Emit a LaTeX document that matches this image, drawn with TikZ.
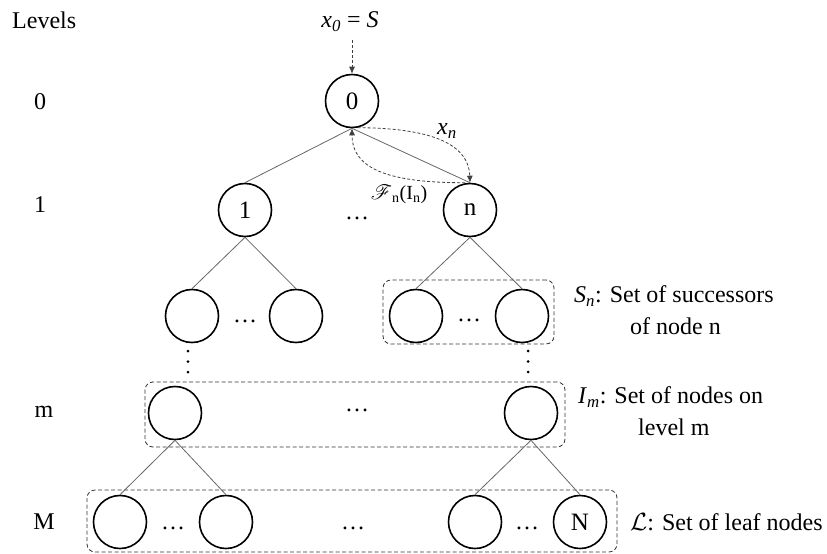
\documentclass[tikz,border=0pt]{standalone}
\usepackage{fontspec}
\setmainfont{Liberation Serif}
\usepackage{mathrsfs}
\usetikzlibrary{arrows.meta}
\begin{document}
\begin{tikzpicture}[x=1pt,y=-1pt,
 nd/.style={circle,draw=black,line width=1.6pt,minimum size=53pt,inner sep=0pt,font=\fontsize{25}{27}\selectfont},
 edge/.style={draw=black!60,line width=0.8pt},
 setbox/.style={draw=black!80,dash pattern=on 4pt off 2.5pt,rounded corners=8pt,line width=0.8pt,inner sep=0pt},
 lbl/.style={inner sep=0pt,font=\fontsize{24}{26}\selectfont},
 slbl/.style={inner sep=0pt,font=\fontsize{20}{22}\selectfont},
 darr/.style={draw=black!75,line width=0.8pt,dash pattern=on 3pt off 2pt,-{Latex[length=7pt,width=6pt]}},
 vdot/.style={circle,fill=black,inner sep=0pt,minimum size=3pt}
]
\useasboundingbox (0,0) rectangle (827,554);

% set boxes
\node[setbox,minimum width=171pt,minimum height=64pt] (Sn) at (468.5,312) {};
\node[setbox,minimum width=420pt,minimum height=65pt] (Im) at (355,414.5) {};
\node[setbox,minimum width=530pt,minimum height=62pt] (Lf) at (352,521) {};

% tree nodes
\node[nd] (r) at (352,101) {0};
\node[nd] (a) at (245,210) {1};
\node[nd] (b) at (470,210) {n};
\node[nd] (a1) at (192,316) {};
\node[nd] (a2) at (296,316) {};
\node[nd] (b1) at (416,316) {};
\node[nd] (b2) at (522,316) {};
\node[nd] (m1) at (175,413) {};
\node[nd] (m2) at (531,413) {};
\node[nd] (l1) at (120,522) {};
\node[nd] (l2) at (226,522) {};
\node[nd] (l3) at (475,522) {};
\node[nd] (l4) at (580,522) {N};

% edges
\draw[edge] (r.south) -- (a.north);
\draw[edge] (r.south) -- (b.north);
\draw[edge] (a.south) -- (a1.north);
\draw[edge] (a.south) -- (a2.north);
\draw[edge] (b.south) -- (b1.north);
\draw[edge] (b.south) -- (b2.north);
\draw[edge] (m1.south) -- (l1.north);
\draw[edge] (m1.south) -- (l2.north);
\draw[edge] (m2.south) -- (l3.north);
\draw[edge] (m2.south) -- (l4.north);

% horizontal ellipses
\node[lbl] (e1) at (357,218) {…};
\node[lbl] (e2) at (245,321) {…};
\node[lbl] (e3) at (469,320) {…};
\node[lbl] (e4) at (357,410) {…};
\node[lbl] (e5) at (173,528) {…};
\node[lbl] (e6) at (353,528) {…};
\node[lbl] (e7) at (527,528) {…};

% vertical dots
\node[vdot] (va1) at (188,351) {};
\node[vdot] (va2) at (188,361.5) {};
\node[vdot] (va3) at (188,372) {};
\node[vdot] (vb1) at (528,351) {};
\node[vdot] (vb2) at (528,361.5) {};
\node[vdot] (vb3) at (528,372) {};

% level labels
\node[lbl,anchor=west] (lev) at (12,20) {Levels};
\node[lbl] (l0) at (40,102) {0};
\node[lbl] (l1t) at (40,205) {1};
\node[lbl] (lm) at (44,412) {m};
\node[lbl] (lM) at (44,522) {M};

% top input
\node[lbl] (x0) at (350,22) {\textit{x}\textsubscript{\textit{0}} = \textit{S}};
\draw[darr,shorten <=8pt] (x0.south -| r.north) -- (r.north);

% curved arrows
\node[slbl] (xn) at (447,131) {\fontsize{24}{26}\selectfont\textit{x}\textsubscript{\textit{n}}};
\node[slbl] (fn) at (399,194) {$\mathscr{F}$\textsubscript{n}(I\textsubscript{n})};
\draw[darr] (r.-78) .. controls (440,128) and (469,148) .. (b.north);
\draw[darr] ([xshift=-5pt]b.north) .. controls (380,183) and (352,165) .. (r.south);

% set labels
\node[lbl,anchor=west] (snl) at (574,296) {\textit{S}\textsubscript{\textit{n}}: Set of successors};
\node[lbl,anchor=west] (snl2) at (630,326) {of node n};
\node[lbl,anchor=west] (iml) at (578,397) {\textit{I}\textsubscript{\textit{m}}: Set of nodes on};
\node[lbl,anchor=west] (iml2) at (638,427) {level m};
\node[lbl,anchor=west] (ll) at (630,522) {$\mathcal{L}$: Set of leaf nodes};
\end{tikzpicture}
\end{document}
